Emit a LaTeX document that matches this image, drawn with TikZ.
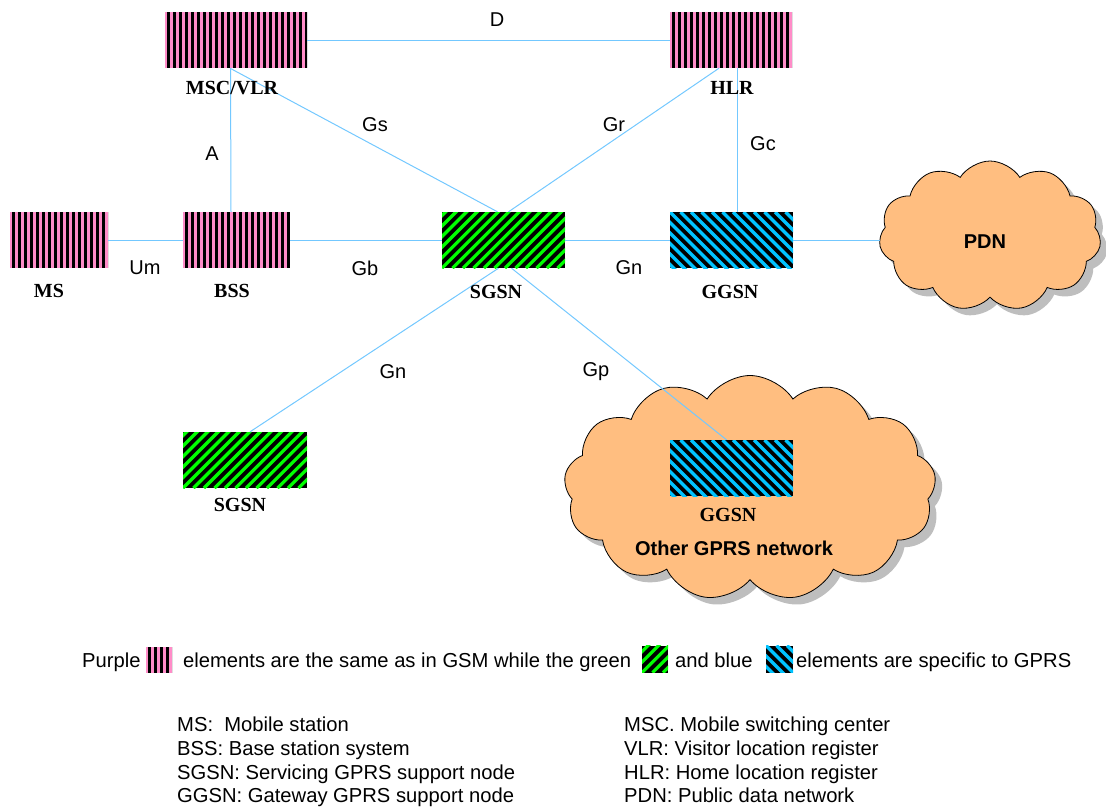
\documentclass[tikz,border=0pt]{standalone}
\usepackage{fontspec}
\setmainfont{Liberation Serif}
\setsansfont{Liberation Sans}
\usetikzlibrary{shapes.symbols,shadows}

\definecolor{linkblue}{RGB}{115,200,255}
\definecolor{gsmpink}{RGB}{255,140,200}
\definecolor{gprsgreen}{RGB}{0,255,0}
\definecolor{gprsblue}{RGB}{0,195,255}
\definecolor{cloudfill}{RGB}{255,190,128}
\definecolor{cloudshade}{RGB}{190,190,190}

\tikzset{
  gsmbox/.style={fill=gsmpink, inner sep=0pt, minimum height=56pt, minimum width=#1,
    path picture={\foreach \k in {0,...,30}{%
      \fill[black] ([xshift=\k*6pt+1.5pt]path picture bounding box.south west) rectangle ++(3.2pt,80pt);}}},
  sgsnbox/.style={fill=black, inner sep=0pt, minimum height=56pt, minimum width=#1,
    path picture={\foreach \k in {-8,...,14}{%
      \draw[gprsgreen, line width=3.2pt] ([xshift=\k*10.5pt]path picture bounding box.south west) -- ++(80pt,80pt);}}},
  ggsnbox/.style={fill=black, inner sep=0pt, minimum height=56pt, minimum width=#1,
    path picture={\foreach \k in {-8,...,14}{%
      \draw[gprsblue, line width=3.2pt] ([xshift=\k*10.5pt]path picture bounding box.north west) -- ++(80pt,-80pt);}}},
  netcloud/.style={cloud, cloud puffs=#1, cloud puff arc=115, cloud ignores aspect,
    draw=black, line width=0.8pt, fill=cloudfill, inner sep=0pt,
    drop shadow={shadow xshift=7pt, shadow yshift=-7pt, fill=cloudshade, opacity=1}},
  link/.style={draw=linkblue, line width=1pt},
  elabel/.style={font=\fontsize{20}{22}\selectfont\bfseries, inner sep=0pt},
  iflabel/.style={font=\sffamily\fontsize{20}{22}\selectfont, inner sep=0pt},
  cloudlabel/.style={font=\sffamily\fontsize{20}{22}\selectfont\bfseries, inner sep=0pt},
  legend/.style={font=\sffamily\fontsize{20.2}{24}\selectfont, inner sep=0pt, anchor=base west},
}

\begin{document}
\begin{tikzpicture}[x=1pt, y=-1pt]
\useasboundingbox (0,0) rectangle (1106,807);

% clouds
\node[netcloud=11, minimum width=222pt, minimum height=150pt] (pdn) at (990,236) {};
\node[netcloud=13, minimum width=372pt, minimum height=225pt] (other) at (750,488) {};
\node[cloudlabel] (pdnlab) at (985,242) {PDN};
\node[cloudlabel] (otherlab) at (734,548) {Other GPRS network};

% network elements
\node[gsmbox=142pt] (msc) at (236,40) {};
\node[gsmbox=122pt] (hlr) at (731,40) {};
\node[gsmbox=98pt] (ms) at (59,240) {};
\node[gsmbox=107pt] (bss) at (236.5,240) {};
\node[sgsnbox=123pt] (sgsn) at (503.5,240) {};
\node[ggsnbox=123pt] (ggsn) at (731.5,240) {};
\node[sgsnbox=124pt] (sgsn2) at (245,460) {};
\node[ggsnbox=123pt] (ggsn2) at (731.5,468) {};

% interfaces
\draw[link] (msc.east) -- (hlr.west);
\draw[link] ([xshift=-5.5pt]bss.north) -- ([xshift=-5.5pt]msc.south);
\draw[link] ([xshift=-6pt]msc.south) -- ([xshift=-6pt]sgsn.north);
\draw[link] ([xshift=5pt]sgsn.north) -- ([xshift=-12pt]hlr.south);
\draw[link] ([xshift=5.5pt]ggsn.north) -- ([xshift=6pt]hlr.south);
\draw[link] (ms.east) -- (bss.west);
\draw[link] (bss.east) -- (sgsn.west);
\draw[link] (sgsn.east) -- (ggsn.west);
\draw[link] (ggsn.east) -- (ggsn.east -| pdn.west);
\draw[link] ([xshift=-5pt]sgsn.south) -- ([xshift=5pt]sgsn2.north);
\draw[link] ([xshift=8pt]sgsn.south) -- ([xshift=-5pt]ggsn2.north);

% interface names
\node[iflabel] (lD) at (497,20) {D};
\node[iflabel] (lA) at (212,154) {A};
\node[iflabel] (lGs) at (375,125) {Gs};
\node[iflabel] (lGr) at (614,125) {Gr};
\node[iflabel] (lGc) at (763,144) {Gc};
\node[iflabel] (lUm) at (145,268) {Um};
\node[iflabel] (lGb) at (365,268) {Gb};
\node[iflabel] (lGn) at (629,268) {Gn};
\node[iflabel] (lGn2) at (393,372) {Gn};
\node[iflabel] (lGp) at (596,372) {Gp};

% element names
\node[elabel] (msclab) at (232,88) {MSC/VLR};
\node[elabel] (hlrlab) at (732,88) {HLR};
\node[elabel] (mslab) at (49,291) {MS};
\node[elabel] (bsslab) at (232,291) {BSS};
\node[elabel] (sgsnlab) at (496,292) {SGSN};
\node[elabel] (ggsnlab) at (730,292) {GGSN};
\node[elabel] (sgsn2lab) at (240,505) {SGSN};
\node[elabel] (ggsn2lab) at (728,515) {GGSN};

% colour key
\node[legend] (k1) at (82,667) {Purple};
\node[gsmbox=26pt, minimum height=26pt] (kp) at (159,660) {};
\node[legend] (k2) at (183,667) {elements are the same as in GSM while the green};
\node[sgsnbox=26pt, minimum height=27pt] (kg) at (655,659) {};
\node[legend] (k3) at (675,667) {and blue};
\node[ggsnbox=27pt, minimum height=27pt] (kb) at (779.5,659) {};
\node[legend] (k4) at (796,667) {elements are specific to GPRS};

% abbreviations
\node[legend] (a1) at (177,731) {MS:\ \ Mobile station};
\node[legend] (a2) at (177,755) {BSS: Base station system};
\node[legend] (a3) at (177,779) {SGSN: Servicing GPRS support node};
\node[legend] (a4) at (177,802) {GGSN: Gateway GPRS support node};
\node[legend] (b1) at (624,731) {MSC. Mobile switching center};
\node[legend] (b2) at (624,755) {VLR: Visitor location register};
\node[legend] (b3) at (624,779) {HLR: Home location register};
\node[legend] (b4) at (624,802) {PDN: Public data network};
\end{tikzpicture}
\end{document}
